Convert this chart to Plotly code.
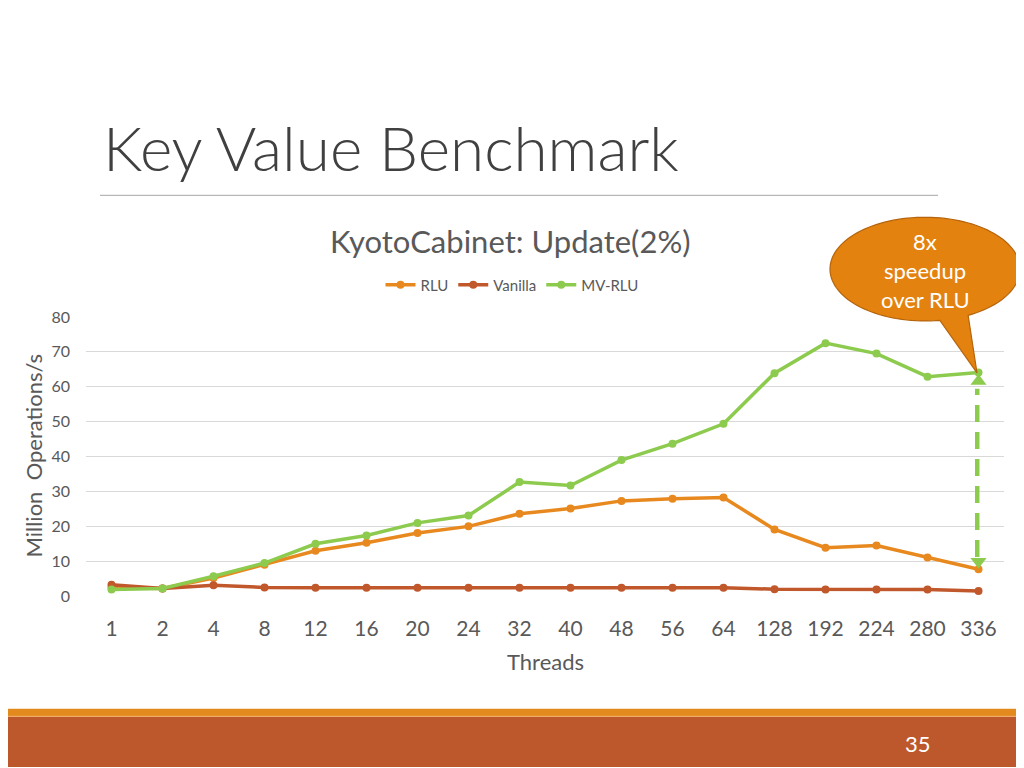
import numpy as np
import plotly.graph_objects as go

threads = ["1", "2", "4", "8", "12", "16", "20", "24", "32", "40", "48", "56", "64",
           "128", "192", "224", "280", "336"]
rlu = [2.5, 2.2, 5.2, 9.0, 13.0, 15.3, 18.1, 20.0, 23.6, 25.1, 27.3, 27.9, 28.3,
       19.1, 13.9, 14.5, 11.1, 7.7]
vanilla = [3.3, 2.2, 3.1, 2.5, 2.4, 2.4, 2.4, 2.4, 2.4, 2.4, 2.4, 2.4, 2.4,
           2.0, 1.9, 1.9, 1.9, 1.5]
mvrlu = [1.9, 2.2, 5.7, 9.5, 15.0, 17.4, 21.0, 23.1, 32.7, 31.7, 39.0, 43.7, 49.4,
         63.9, 72.5, 69.5, 62.9, 64.1]
yticks = [0, 10, 20, 30, 40, 50, 60, 70, 80]

C_RLU = "#E8891F"
C_VAN = "#C0582B"
C_MV = "#8DCB4E"
FONT = "Lato"

# figure placement inside the page (body margin etc.)
OFFX = 8
OFFY, SY = 16.2, 0.978
W, H = 1008, 768


def px(x):
    return (x - OFFX) / W


def py(y):
    return 1 - ((y - OFFY) / SY) / H


fig = go.Figure()
for name, vals, col in [("RLU", rlu, C_RLU), ("Vanilla", vanilla, C_VAN), ("MV-RLU", mvrlu, C_MV)]:
    fig.add_trace(go.Scatter(
        x=threads, y=vals, name=name, mode="lines+markers",
        line=dict(color=col, width=3.5),
        marker=dict(color=col, size=8),
    ))

# dashed double arrow between RLU and MV-RLU at 336 threads
last = threads[-1]
xi = threads.index(last) - 0.025
fig.add_shape(type="line", xref="x", yref="y", x0=xi, x1=xi, y0=11.2, y1=59.4,
              line=dict(color=C_MV, width=4.5, dash="17px,10px"), layer="above")
fig.add_trace(go.Scatter(
    x=[last, last], y=[61.6, 9.9], mode="markers", showlegend=False, hoverinfo="skip",
    marker=dict(symbol=["triangle-up", "triangle-down"], size=14, color=C_MV,
                line=dict(width=0)),
))

# callout shape (ellipse with tail)
cx, cy, rx, ry = 925, 268, 95, 52
th = np.radians(np.linspace(81, 423, 120))
pts = [(cx + rx * np.cos(t), cy + ry * np.sin(t)) for t in th]
pts.append((977, 372))
path = "M " + " L ".join(f"{px(a):.5f},{py(b):.5f}" for a, b in pts) + " Z"
fig.add_shape(type="path", xref="paper", yref="paper", path=path,
              fillcolor="#E4820F", line=dict(color="#B5640C", width=1.2), layer="above")
for txt, yy in [("8x", 240), ("speedup", 269), ("over RLU", 298)]:
    fig.add_annotation(xref="paper", yref="paper", x=px(cx), y=py(yy), text=txt,
                       showarrow=False, font=dict(family=FONT, size=22, color="white"),
                       xanchor="center", yanchor="middle")

# title and rule
fig.add_annotation(xref="paper", yref="paper", x=px(101), y=py(146), text="Key Value Benchmark",
                   showarrow=False, xanchor="left", yanchor="middle",
                   font=dict(family=FONT, size=62, color="#404040", weight=300))
fig.add_shape(type="line", xref="paper", yref="paper", x0=px(100), x1=px(938), y0=py(194), y1=py(194),
              line=dict(color="#A6A6A6", width=1))

# chart title
fig.add_annotation(xref="paper", yref="paper", x=px(510), y=py(240), text="KyotoCabinet: Update(2%)",
                   showarrow=False, xanchor="center", yanchor="middle",
                   font=dict(family=FONT, size=31, color="#595959"))

# axis titles
fig.add_annotation(xref="paper", yref="paper", x=px(545), y=py(662), text="Threads",
                   showarrow=False, xanchor="center", yanchor="middle",
                   font=dict(family=FONT, size=22, color="#595959"))
fig.add_annotation(xref="paper", yref="paper", x=px(34), y=py(455), text="Million  Operations/s",
                   showarrow=False, xanchor="center", yanchor="middle", textangle=-90,
                   font=dict(family=FONT, size=22, color="#595959"))

# footer bars
fig.add_shape(type="rect", xref="paper", yref="paper", x0=0, x1=1, y0=py(717), y1=py(709),
              fillcolor="#E38A1E", line=dict(width=0))
fig.add_shape(type="rect", xref="paper", yref="paper", x0=0, x1=1, y0=0, y1=py(717),
              fillcolor="#BD582C", line=dict(width=0))
fig.add_shape(type="line", xref="paper", yref="paper", x0=0, x1=1, y0=py(716.5), y1=py(716.5),
              line=dict(color="#F2B270", width=1))
fig.add_annotation(xref="paper", yref="paper", x=px(918), y=py(744), text="35",
                   showarrow=False, xanchor="center", yanchor="middle",
                   font=dict(family=FONT, size=22, color="white"))

fig.update_layout(
    width=W, height=H, margin=dict(l=0, r=0, t=0, b=0),
    paper_bgcolor="white", plot_bgcolor="white",
    showlegend=True,
    legend=dict(orientation="h", x=px(512), xanchor="center", y=py(284), yanchor="middle",
                font=dict(family=FONT, size=15, color="#595959"), bgcolor="rgba(0,0,0,0)",
                itemwidth=30),
    xaxis=dict(type="category", domain=[px(86), px(1004)], range=[-0.5, len(threads) - 0.5],
               showgrid=False, zeroline=False, showline=False, ticks="",
               tickfont=dict(family=FONT, size=21, color="#595959"), ticklabelstandoff=18),
    yaxis=dict(domain=[py(596), py(316)], range=[0, 80], tickvals=yticks,
               showgrid=True, gridcolor="#D9D9D9", gridwidth=1, zeroline=False, showline=False,
               ticks="", tickfont=dict(family=FONT, size=16, color="#595959"), ticklabelstandoff=15),
    font=dict(family=FONT),
)

fig.write_html("out.html")
